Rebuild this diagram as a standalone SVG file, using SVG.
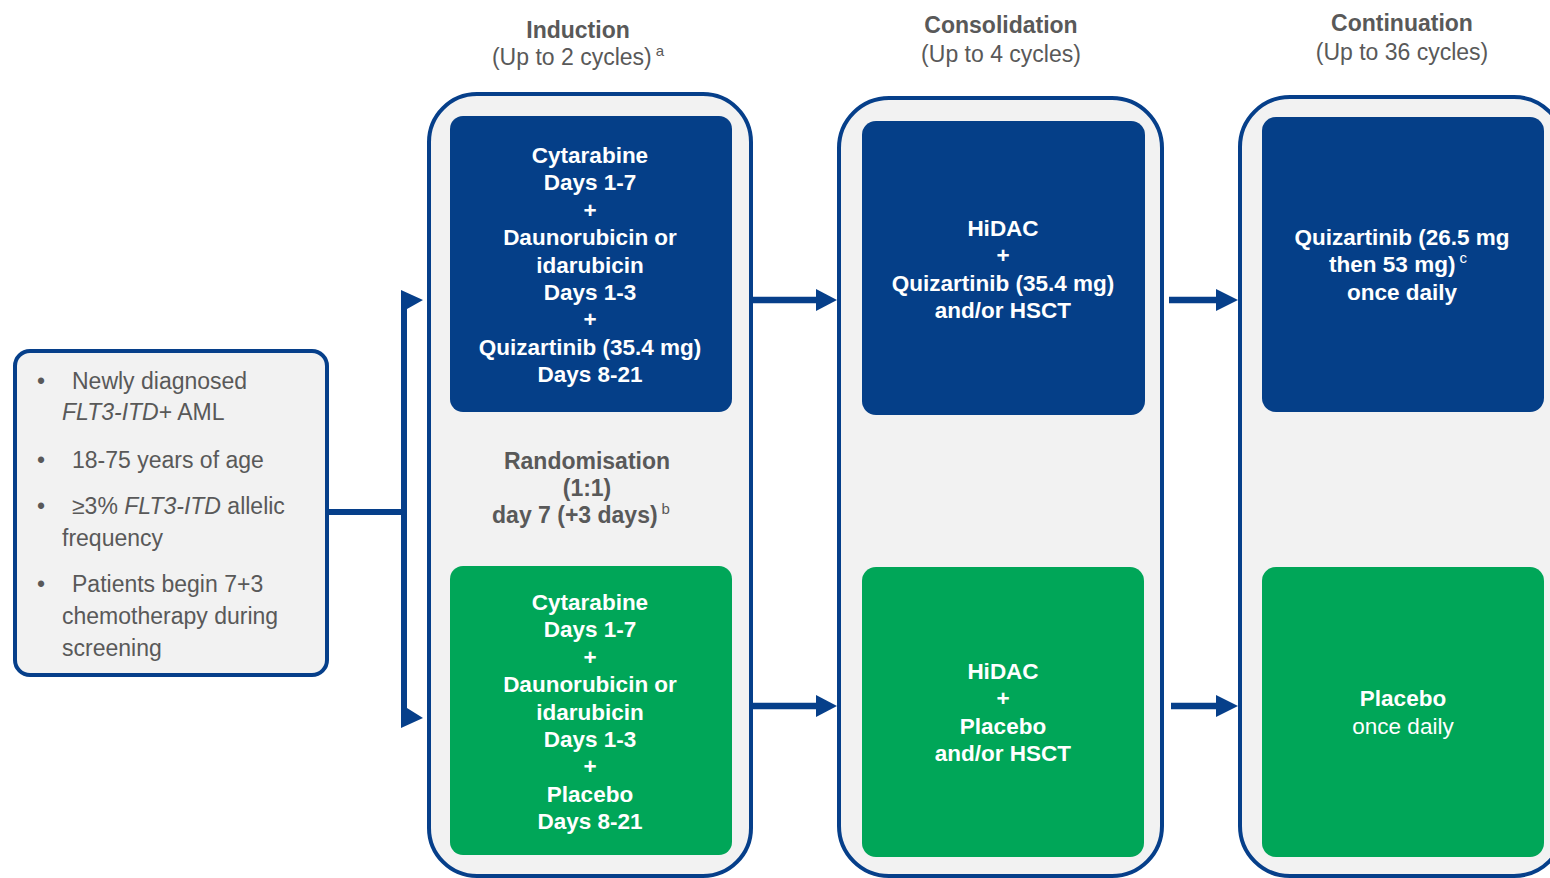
<svg xmlns="http://www.w3.org/2000/svg" width="1550" height="878" viewBox="0 0 1550 878">
<defs>
<style>
.outer{fill:#F2F2F2;stroke:#063F8A;stroke-width:4}
.blue{fill:#053F88}
.green{fill:#00A658}
.bt{font-family:"Liberation Sans",Arial,sans-serif;font-size:22.5px;font-weight:bold;fill:#FFFFFF;text-anchor:middle}
.wt{font-family:"Liberation Sans",Arial,sans-serif;font-size:22.5px;fill:#FFFFFF;text-anchor:middle}
.hd{font-family:"Liberation Sans",Arial,sans-serif;font-size:23px;font-weight:bold;fill:#595959;text-anchor:middle}
.sub{font-family:"Liberation Sans",Arial,sans-serif;font-size:23px;fill:#595959;text-anchor:middle}
.gt{font-family:"Liberation Sans",Arial,sans-serif;font-size:23px;fill:#595959}
.rb{font-family:"Liberation Sans",Arial,sans-serif;font-size:23px;font-weight:bold;fill:#595959;text-anchor:middle}
.sup{font-size:15px}
.line{stroke:#063F8A;fill:none}
.head{fill:#063F8A}
</style>
</defs>
<rect width="1550" height="878" fill="#FFFFFF"/>

<!-- headers -->
<g id="header-induction">
<text class="hd" x="578" y="38">Induction</text>
<text class="sub" x="578" y="65">(Up to 2 cycles)<tspan class="sup" dx="4" dy="-9">a</tspan></text>
</g>
<g id="header-consolidation">
<text class="hd" x="1001" y="33">Consolidation</text>
<text class="sub" x="1001" y="62">(Up to 4 cycles)</text>
</g>
<g id="header-continuation">
<text class="hd" x="1402" y="31">Continuation</text>
<text class="sub" x="1402" y="60">(Up to 36 cycles)</text>
</g>

<!-- eligibility -->
<g id="eligibility">
<rect class="outer" x="15" y="351" width="312" height="324" rx="15" ry="15" stroke-width="3.5"/>
<text class="gt" x="37" y="389">•</text>
<text class="gt" x="72" y="389">Newly diagnosed</text>
<text class="gt" x="62" y="420"><tspan font-style="italic">FLT3-ITD</tspan>+ AML</text>
<text class="gt" x="37" y="468">•</text>
<text class="gt" x="72" y="468">18-75 years of age</text>
<text class="gt" x="37" y="514">•</text>
<text class="gt" x="72" y="514">≥3% <tspan font-style="italic">FLT3-ITD</tspan> allelic</text>
<text class="gt" x="62" y="546">frequency</text>
<text class="gt" x="37" y="592">•</text>
<text class="gt" x="72" y="592">Patients begin 7+3</text>
<text class="gt" x="62" y="624">chemotherapy during</text>
<text class="gt" x="62" y="656">screening</text>
</g>

<!-- induction -->
<g id="induction">
<rect class="outer" x="429" y="94" width="322" height="782" rx="48" ry="48"/>
<text class="rb" x="587" y="469">Randomisation</text>
<text class="rb" x="587" y="496">(1:1)</text>
<text class="rb" x="581" y="523">day 7 (+3 days)<tspan class="sup" font-weight="normal" dx="4" dy="-9">b</tspan></text>
</g>
<g id="induction-quizartinib">
<rect class="blue" x="450" y="116" width="282" height="296" rx="13" ry="13"/>
<text class="bt" x="590" y="163">Cytarabine</text>
<text class="bt" x="590" y="190.4">Days 1-7</text>
<text class="bt" x="590" y="217.8">+</text>
<text class="bt" x="590" y="245.2">Daunorubicin or</text>
<text class="bt" x="590" y="272.6">idarubicin</text>
<text class="bt" x="590" y="300">Days 1-3</text>
<text class="bt" x="590" y="327.4">+</text>
<text class="bt" x="590" y="354.8">Quizartinib (35.4 mg)</text>
<text class="bt" x="590" y="382.2">Days 8-21</text>
</g>
<g id="induction-placebo">
<rect class="green" x="450" y="566" width="282" height="289" rx="13" ry="13"/>
<text class="bt" x="590" y="610">Cytarabine</text>
<text class="bt" x="590" y="637.4">Days 1-7</text>
<text class="bt" x="590" y="664.8">+</text>
<text class="bt" x="590" y="692.2">Daunorubicin or</text>
<text class="bt" x="590" y="719.6">idarubicin</text>
<text class="bt" x="590" y="747">Days 1-3</text>
<text class="bt" x="590" y="774.4">+</text>
<text class="bt" x="590" y="801.8">Placebo</text>
<text class="bt" x="590" y="829.2">Days 8-21</text>
</g>

<!-- consolidation -->
<g id="consolidation">
<rect class="outer" x="839" y="98" width="323" height="778" rx="50" ry="50"/>
</g>
<g id="consolidation-quizartinib">
<rect class="blue" x="862" y="121" width="283" height="294" rx="14" ry="14"/>
<text class="bt" x="1003" y="236">HiDAC</text>
<text class="bt" x="1003" y="263.4">+</text>
<text class="bt" x="1003" y="290.8">Quizartinib (35.4 mg)</text>
<text class="bt" x="1003" y="318.2">and/or HSCT</text>
</g>
<g id="consolidation-placebo">
<rect class="green" x="862" y="567" width="282" height="290" rx="14" ry="14"/>
<text class="bt" x="1003" y="679">HiDAC</text>
<text class="bt" x="1003" y="706.4">+</text>
<text class="bt" x="1003" y="733.8">Placebo</text>
<text class="bt" x="1003" y="761.2">and/or HSCT</text>
</g>

<!-- continuation -->
<g id="continuation">
<rect class="outer" x="1240" y="97" width="324" height="779" rx="50" ry="50"/>
</g>
<g id="continuation-quizartinib">
<rect class="blue" x="1262" y="117" width="282" height="295" rx="14" ry="14"/>
<text class="bt" x="1402" y="245">Quizartinib (26.5 mg</text>
<text class="bt" x="1398" y="272.4">then 53 mg)<tspan class="sup" font-weight="normal" dx="4" dy="-9">c</tspan></text>
<text class="bt" x="1402" y="299.8">once daily</text>
</g>
<g id="continuation-placebo">
<rect class="green" x="1262" y="567" width="282" height="290" rx="14" ry="14"/>
<text class="bt" x="1403" y="706">Placebo</text>
<text class="wt" x="1403" y="734">once daily</text>
</g>

<!-- connectors -->
<g id="connectors">
<line class="line" x1="327" y1="512" x2="405" y2="512" stroke-width="6"/>
<polygon class="head" points="401,290 423,300 407,309 407,708 423,718 401,728"/>
<line class="line" x1="753" y1="300" x2="819" y2="300" stroke-width="6.5"/>
<polygon class="head" points="816,289 837,300 816,311"/>
<line class="line" x1="753" y1="706" x2="819" y2="706" stroke-width="6.5"/>
<polygon class="head" points="816,695 837,706 816,717"/>
<line class="line" x1="1169" y1="300" x2="1219" y2="300" stroke-width="6.5"/>
<polygon class="head" points="1216,289 1238,300 1216,311"/>
<line class="line" x1="1171" y1="706" x2="1219" y2="706" stroke-width="6.5"/>
<polygon class="head" points="1216,695 1238,706 1216,717"/>
</g>
</svg>
